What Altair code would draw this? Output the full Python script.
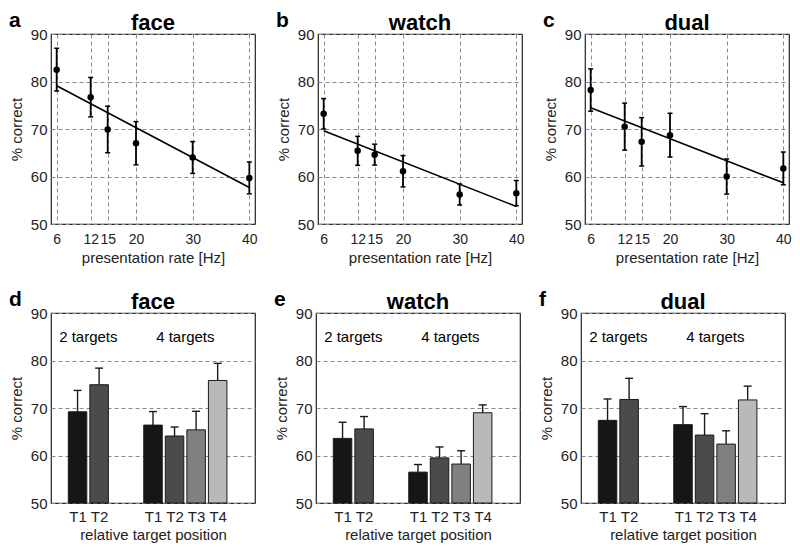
import altair as alt
import pandas as pd

# ---- data: top row (accuracy vs presentation rate) ----
rates = [6, 12, 15, 20, 30, 40]
face_rate = [82.5, 76.7, 69.9, 67.0, 64.0, 59.7]
face_rate_err = [4.5, 4.15, 4.9, 4.55, 3.35, 3.35]
watch_rate = [73.2, 65.4, 64.6, 61.1, 56.2, 56.5]
watch_rate_err = [3.2, 3.05, 2.2, 3.3, 2.2, 2.65]
dual_rate = [78.2, 70.5, 67.3, 68.7, 60.0, 61.7]
dual_rate_err = [4.45, 4.95, 5.1, 4.6, 3.7, 3.45]

# ---- data: bottom row (accuracy vs relative target position) ----
target_groups = ["2 targets", "2 targets", "4 targets", "4 targets", "4 targets", "4 targets"]
target_labels = ["T1", "T2", "T1", "T2", "T3", "T4"]
face_pos = [69.2, 74.9, 66.4, 64.1, 65.4, 75.8]
face_pos_err = [4.5, 3.5, 2.85, 1.9, 3.9, 3.6]
watch_pos = [63.6, 65.6, 56.5, 59.5, 58.2, 69.0]
watch_pos_err = [3.4, 2.6, 1.6, 2.3, 2.8, 1.65]
dual_pos = [67.4, 71.8, 66.5, 64.3, 62.4, 71.7]
dual_pos_err = [4.5, 4.45, 3.8, 4.5, 2.8, 2.9]

y_ticks = [50, 60, 70, 80, 90]
bar_colors = {"T1": "#161616", "T2": "#4b4b4b", "T3": "#808080", "T4": "#b9b9b9"}

FONT = "Liberation Sans"
W, H = 204, 190
GRID = dict(grid=True, gridColor="#8a8a8a", gridDash=[4, 3], gridWidth=1)

YS = alt.Scale(domain=[50, 90], nice=False, zero=False)
YAX = alt.Axis(values=y_ticks, title="% correct", ticks=False, labelPadding=4,
               titlePadding=6, **GRID)


def Y(field):
    return alt.Y(field, scale=YS, axis=YAX, title="% correct")


def heading_layers(letter, title):
    df = pd.DataFrame({"t": [letter], "name": [title]})
    let = alt.Chart(df).mark_text(
        font=FONT, fontSize=21, fontWeight="bold", align="left", baseline="alphabetic",
        color="black").encode(x=alt.value(-42), y=alt.value(-7), text="t:N")
    ttl = alt.Chart(df).mark_text(
        font=FONT, fontSize=22, fontWeight="bold", align="center", baseline="alphabetic",
        color="black").encode(x=alt.value(W / 2), y=alt.value(-4), text="name:N")
    return [let, ttl]


def rate_panel(letter, title, vals, errs):
    df = pd.DataFrame({"rate": rates, "pc": vals, "err": errs})
    df["lo"] = df["pc"] - df["err"]
    df["hi"] = df["pc"] + df["err"]
    xs = alt.Scale(domain=[5, 41], nice=False, zero=False)
    xax = alt.Axis(values=rates, title="presentation rate [Hz]", ticks=False, labelPadding=8,
                   titlePadding=4, labelFlush=False, labelFontSize=14, **GRID)

    def X():
        return alt.X("rate:Q", scale=xs, axis=xax, title="presentation rate [Hz]")

    base = alt.Chart(df)
    line = base.transform_regression("rate", "pc").mark_line(
        color="black", strokeWidth=1.6).encode(x=X(), y=Y("pc:Q"))
    rules = base.mark_rule(color="black", strokeWidth=1.8).encode(
        x=X(), y=Y("lo:Q"), y2="hi:Q")
    caps = base.transform_fold(["lo", "hi"], as_=["k", "v"]).mark_tick(
        orient="horizontal", size=5, thickness=1.5, color="black", opacity=1).encode(
        x=X(), y=Y("v:Q"))
    pts = base.mark_circle(size=42, color="black", opacity=1).encode(x=X(), y=Y("pc:Q"))
    return alt.layer(line, rules, caps, pts, *heading_layers(letter, title)).properties(
        width=W, height=H)


def bar_panel(letter, title, vals, errs):
    offsets = {"2 targets": 0.0, "4 targets": 3.5}
    idx = [int(t[1:]) for t in target_labels]
    pos = [i + offsets[g] for i, g in zip(idx, target_groups)]
    df = pd.DataFrame({"group": target_groups, "target": target_labels, "pos": pos,
                       "pc": vals, "err": errs})
    df["hi"] = df["pc"] + df["err"]
    label_expr = " : ".join(f"datum.value == {p} ? '{t}'" for p, t in zip(pos, target_labels)) + " : ''"
    xs = alt.Scale(domain=[0, 9], nice=False, zero=False)
    xax = alt.Axis(values=pos, labelExpr=label_expr, title="relative target position",
                   grid=False, ticks=False, labelPadding=6, titlePadding=3)

    def X():
        return alt.X("pos:Q", scale=xs, axis=xax, title="relative target position")

    base = alt.Chart(df)
    bars = base.mark_bar(size=18.5, stroke="#1a1a1a", strokeWidth=1).encode(
        x=X(), y=Y("pc:Q"), y2=alt.datum(50),
        color=alt.Color("target:N", scale=alt.Scale(domain=list(bar_colors.keys()),
                                                    range=list(bar_colors.values())),
                        legend=None))
    rules = base.mark_rule(color="#1a1a1a", strokeWidth=1.4).encode(
        x=X(), y=Y("pc:Q"), y2="hi:Q")
    caps = base.mark_tick(orient="horizontal", size=8, thickness=1.4, color="#1a1a1a",
                          opacity=1).encode(x=X(), y=Y("hi:Q"))
    gdf = df.groupby("group", as_index=False)["pos"].mean()
    labels = alt.Chart(gdf).mark_text(font=FONT, fontSize=15, color="black",
                                      baseline="middle").encode(
        x=X(), y=alt.datum(85), text="group:N")
    return alt.layer(bars, rules, caps, labels, *heading_layers(letter, title)).properties(
        width=W, height=H)


row1 = alt.hconcat(rate_panel("a", "face", face_rate, face_rate_err),
                   rate_panel("b", "watch", watch_rate, watch_rate_err),
                   rate_panel("c", "dual", dual_rate, dual_rate_err), spacing=17)
row2 = alt.hconcat(bar_panel("d", "face", face_pos, face_pos_err),
                   bar_panel("e", "watch", watch_pos, watch_pos_err),
                   bar_panel("f", "dual", dual_pos, dual_pos_err), spacing=17)

chart = alt.vconcat(row1, row2, spacing=22).properties(
    padding={"left": 0, "top": 1, "right": 0, "bottom": 0}
).configure(
    font=FONT
).configure_view(
    stroke="#222222", strokeWidth=1.2
).configure_axis(
    labelFont=FONT, titleFont=FONT, labelFontSize=15, titleFontSize=15,
    labelColor="#222222", titleColor="#222222", titleFontWeight="normal", domain=False
)

chart.save("out.html", embed_options={"renderer": "svg", "actions": False})
